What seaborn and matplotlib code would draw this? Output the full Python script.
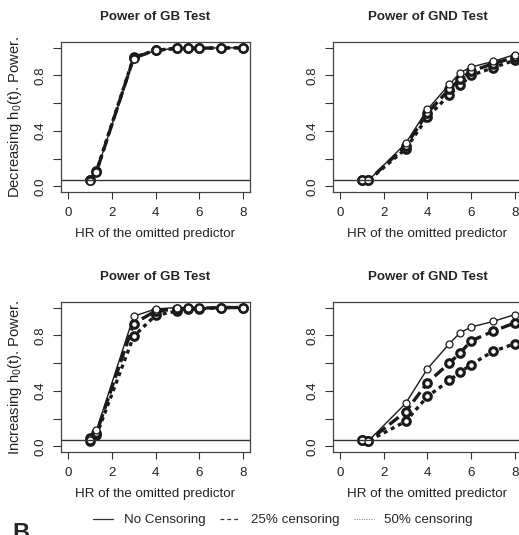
import numpy as np
import pandas as pd
import matplotlib
matplotlib.use("Agg")
import matplotlib.pyplot as plt
import seaborn as sns
from matplotlib.lines import Line2D

# --- data ---
hr = [1, 1.3, 3, 4, 5, 5.5, 6, 7, 8]

gb_dec_none = [0.04, 0.105, 0.92, 0.98, 0.995, 0.995, 0.995, 0.998, 0.998]
gb_dec_25 = [0.045, 0.105, 0.925, 0.98, 0.995, 0.995, 0.995, 0.998, 0.998]
gb_dec_50 = [0.045, 0.11, 0.93, 0.98, 0.995, 0.995, 0.995, 0.998, 0.998]

gnd_dec_none = [0.043, 0.043, 0.31, 0.555, 0.735, 0.82, 0.86, 0.90, 0.95]
gnd_dec_25 = [0.043, 0.043, 0.29, 0.53, 0.70, 0.776, 0.83, 0.884, 0.93]
gnd_dec_50 = [0.043, 0.043, 0.27, 0.50, 0.66, 0.73, 0.80, 0.855, 0.91]

gb_inc_none = [0.05, 0.115, 0.937, 0.99, 1.0, 0.995, 0.995, 1.0, 1.0]
gb_inc_25 = [0.06, 0.096, 0.884, 0.975, 0.99, 0.995, 0.995, 1.0, 1.0]
gb_inc_50 = [0.04, 0.08, 0.793, 0.944, 0.975, 0.99, 0.99, 1.0, 1.0]

gnd_inc_none = [0.05, 0.04, 0.31, 0.56, 0.74, 0.82, 0.86, 0.90, 0.95]
gnd_inc_25 = [0.05, 0.04, 0.25, 0.46, 0.60, 0.675, 0.76, 0.83, 0.89]
gnd_inc_50 = [0.05, 0.04, 0.18, 0.36, 0.475, 0.535, 0.59, 0.685, 0.74]

panels = [
    ("Power of GB Test", "Decreasing h$_0$(t). Power.", [gb_dec_none, gb_dec_25, gb_dec_50]),
    ("Power of GND Test", None, [gnd_dec_none, gnd_dec_25, gnd_dec_50]),
    ("Power of GB Test", "Increasing h$_0$(t). Power.", [gb_inc_none, gb_inc_25, gb_inc_50]),
    ("Power of GND Test", None, [gnd_inc_none, gnd_inc_25, gnd_inc_50]),
]
series_names = ["No Censoring", "25% censoring", "50% censoring"]

sns.set_style("ticks")
plt.rcParams['font.family'] = ['Liberation Sans', 'DejaVu Sans']
plt.rcParams['mathtext.fontset'] = 'custom'
plt.rcParams['mathtext.rm'] = 'Liberation Sans'
plt.rcParams['mathtext.it'] = 'Liberation Sans:italic'

fig = plt.figure(figsize=(5.19, 5.35), dpi=100)
W, H = 519, 535
boxes = [(61, 42), (333, 42), (61, 302), (333, 302)]
bw, bh = 189, 150
fs = 9.6

styles = [
    dict(linestyle="-", lw=1.0, markersize=5, mew=0.9),
    dict(linestyle=(0, (3.5, 1.5)), lw=2.4, markersize=5.5, mew=2.2),
    dict(linestyle=(0, (1.2, 1.2)), lw=2.4, markersize=5.5, mew=2.2),
]

for (title, ylab, ys), (bx, by) in zip(panels, boxes):
    ax = fig.add_axes([bx / W, (H - by - bh) / H, bw / W, bh / H])
    for vals, st, name in zip(ys[::-1], styles[::-1], series_names[::-1]):
        df = pd.DataFrame({"hr": hr, "power": vals})
        sns.lineplot(data=df, x="hr", y="power", ax=ax, color="#1a1a1a",
                     marker="o", mfc="white", mec="#1a1a1a", **st)
    ax.axhline(0.05, color="#333333", lw=1.0)
    ax.set_xlim(-0.32, 8.32)
    ax.set_ylim(-0.04, 1.04)
    ax.set_xticks([0, 2, 4, 6, 8])
    ax.set_yticks([0, 0.2, 0.4, 0.6, 0.8, 1.0])
    ax.set_yticklabels(["0.0", "", "0.4", "", "0.8", ""], rotation=90, va="center")
    ax.tick_params(direction="out", length=5, width=0.8, labelsize=fs,
                   colors="#333333", labelcolor="#222222")
    ax.tick_params(axis="x", pad=6)
    ax.tick_params(axis="y", length=5.5, pad=5)
    for sp in ax.spines.values():
        sp.set_visible(True)
        sp.set_color("#444444")
        sp.set_linewidth(0.9)
    ax.set_xlabel("HR of the omitted predictor", fontsize=fs, color="#222222", labelpad=6)
    if ylab:
        ax.set_ylabel(ylab, fontsize=10.6, color="#222222")
        ax.yaxis.set_label_coords((24 - bx) / bw, 0.5)
    else:
        ax.set_ylabel("")
    ax.set_title(title, fontsize=fs, fontweight="bold", pad=15.5)
    if ax.get_legend():
        ax.get_legend().remove()

handles = [
    Line2D([], [], color="#333333", lw=0.9, linestyle="-"),
    Line2D([], [], color="#333333", lw=0.9, linestyle=(0, (3, 2.5))),
    Line2D([], [], color="#777777", lw=0.7, linestyle=(0, (1, 1.5))),
]
fig.legend(handles, series_names, loc="center", ncol=3, frameon=False,
           bbox_to_anchor=(283 / W, 15 / H), fontsize=fs, handlelength=1.5,
           columnspacing=1.1, handletextpad=0.8)
fig.text(12 / W, 2 / H, "B", fontsize=17, fontweight="bold", ha="left", va="center")

fig.savefig("out.png", dpi=100)
